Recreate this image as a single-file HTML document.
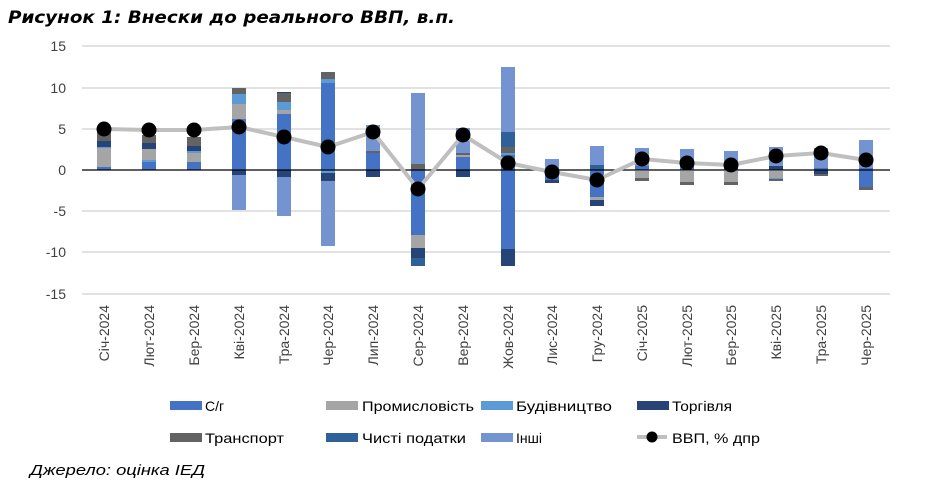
<!DOCTYPE html>
<html><head><meta charset="utf-8"><style>
html,body{margin:0;padding:0;background:#fff;}
svg{display:block;font-family:"Liberation Sans",sans-serif;}
.A{fill:#4472C4}.P{fill:#A5A5A5}.B{fill:#5B9BD5}.T{fill:#264478}.R{fill:#636363}.N{fill:#2E6099}.I{fill:#7393D1}
.yl{font-size:14px;fill:#404040;text-anchor:end}
.xl{font-size:14px;fill:#404040;text-anchor:end}
.lg{font-size:14px;fill:#000}
</style></head><body>
<svg width="950" height="490" viewBox="0 0 950 490">
<text x="8" y="23" font-size="17" font-weight="bold" font-style="italic" fill="#000" font-family="DejaVu Sans, sans-serif" textLength="447" lengthAdjust="spacingAndGlyphs">Рисунок 1: Внески до реального ВВП, в.п.</text>
<g stroke="#D9D9D9" stroke-width="1.5">
<line x1="82" x2="890" y1="46" y2="46"/><line x1="82" x2="890" y1="88" y2="88"/><line x1="82" x2="890" y1="129" y2="129"/>
<line x1="82" x2="890" y1="211" y2="211"/><line x1="82" x2="890" y1="252" y2="252"/><line x1="82" x2="890" y1="294" y2="294"/>
</g>
<g class="yl">
<text x="66" y="51">15</text><text x="66" y="93">10</text><text x="66" y="134">5</text><text x="66" y="175">0</text>
<text x="66" y="216">-5</text><text x="66" y="257">-10</text><text x="66" y="299">-15</text>
</g>
<g>
<rect class="A" x="97" y="167" width="14" height="3"/><rect class="P" x="97" y="148" width="14" height="19"/><rect class="B" x="97" y="147" width="14" height="1"/><rect class="T" x="97" y="141" width="14" height="6"/><rect class="R" x="97" y="132" width="14" height="9"/>
<rect class="A" x="142" y="162" width="14" height="8"/><rect class="B" x="142" y="160" width="14" height="2"/><rect class="P" x="142" y="149" width="14" height="11"/><rect class="T" x="142" y="143" width="14" height="6"/><rect class="R" x="142" y="135" width="14" height="8"/>
<rect class="A" x="187" y="162" width="14" height="8"/><rect class="P" x="187" y="153" width="14" height="9"/><rect class="B" x="187" y="151" width="14" height="2"/><rect class="T" x="187" y="146" width="14" height="5"/><rect class="R" x="187" y="137" width="14" height="9"/>
<rect class="A" x="232" y="119" width="14" height="51"/><rect class="P" x="232" y="104" width="14" height="15"/><rect class="B" x="232" y="94" width="14" height="10"/><rect class="R" x="232" y="88" width="14" height="6"/>
<rect class="T" x="232" y="170" width="14" height="5"/><rect class="I" x="232" y="175" width="14" height="35"/>
<rect class="A" x="277" y="114" width="14" height="56"/><rect class="P" x="277" y="110" width="14" height="4"/><rect class="B" x="277" y="102" width="14" height="8"/><rect class="R" x="277" y="93" width="14" height="9"/><rect class="T" x="277" y="92" width="14" height="1"/>
<rect class="T" x="277" y="170" width="14" height="7"/><rect class="I" x="277" y="177" width="14" height="39"/>
<rect class="A" x="321" y="83" width="14" height="87"/><rect class="B" x="321" y="79" width="14" height="4"/><rect class="R" x="321" y="72" width="14" height="7"/>
<rect class="B" x="321" y="170" width="14" height="3"/><rect class="T" x="321" y="173" width="14" height="8"/><rect class="I" x="321" y="181" width="14" height="65"/>
<rect class="A" x="366" y="153" width="14" height="17"/><rect class="R" x="366" y="151" width="14" height="2"/><rect class="I" x="366" y="125" width="14" height="26"/>
<rect class="T" x="366" y="170" width="14" height="7"/>
<rect class="R" x="411" y="164" width="14" height="6"/><rect class="I" x="411" y="93" width="14" height="71"/>
<rect class="A" x="411" y="170" width="14" height="65"/><rect class="P" x="411" y="235" width="14" height="13"/><rect class="T" x="411" y="248" width="14" height="10"/><rect class="N" x="411" y="258" width="14" height="8"/>
<rect class="A" x="456" y="157" width="14" height="13"/><rect class="P" x="456" y="155" width="14" height="2"/><rect class="R" x="456" y="153" width="14" height="2"/><rect class="I" x="456" y="128" width="14" height="25"/>
<rect class="T" x="456" y="170" width="14" height="7"/>
<rect class="A" x="501" y="155" width="14" height="15"/><rect class="B" x="501" y="153" width="14" height="2"/><rect class="R" x="501" y="147" width="14" height="6"/><rect class="N" x="501" y="132" width="14" height="15"/><rect class="I" x="501" y="67" width="14" height="65"/>
<rect class="A" x="501" y="170" width="14" height="79"/><rect class="T" x="501" y="249" width="14" height="17"/>
<rect class="I" x="545" y="159" width="14" height="11"/><rect class="A" x="545" y="170" width="14" height="10"/><rect class="T" x="545" y="180" width="14" height="3"/>
<rect class="N" x="590" y="165" width="14" height="5"/><rect class="I" x="590" y="146" width="14" height="19"/>
<rect class="A" x="590" y="170" width="14" height="27"/><rect class="P" x="590" y="197" width="14" height="3"/><rect class="T" x="590" y="200" width="14" height="6"/>
<rect class="A" x="635" y="166" width="14" height="4"/><rect class="I" x="635" y="148" width="14" height="18"/>
<rect class="P" x="635" y="171" width="14" height="7"/><rect class="R" x="635" y="178" width="14" height="3"/>
<rect class="A" x="680" y="163" width="14" height="7"/><rect class="I" x="680" y="149" width="14" height="14"/>
<rect class="P" x="680" y="171" width="14" height="11"/><rect class="R" x="680" y="182" width="14" height="3"/>
<rect class="A" x="724" y="166" width="14" height="4"/><rect class="I" x="724" y="151" width="14" height="15"/>
<rect class="P" x="724" y="171" width="14" height="11"/><rect class="R" x="724" y="182" width="14" height="3"/>
<rect class="T" x="769" y="166" width="14" height="4"/><rect class="I" x="769" y="147" width="14" height="19"/>
<rect class="P" x="769" y="171" width="14" height="7"/><rect class="B" x="769" y="178" width="14" height="1"/><rect class="R" x="769" y="179" width="14" height="2"/>
<rect class="I" x="814" y="148" width="14" height="20"/><rect class="A" x="814" y="168" width="14" height="2"/>
<rect class="T" x="814" y="170" width="14" height="4"/><rect class="R" x="814" y="174" width="14" height="2"/>
<rect class="I" x="859" y="140" width="14" height="28"/><rect class="A" x="859" y="168" width="14" height="2"/>
<rect class="A" x="859" y="170" width="14" height="17"/><rect class="R" x="859" y="187" width="14" height="3"/>
</g>
<line x1="82" x2="890" y1="170" y2="170" stroke="#000" stroke-width="1.3"/>
<polyline fill="none" stroke="#BFBFBF" stroke-width="4" stroke-linejoin="round" points="104,129 149,130 194,130 239,127 284,137 328,147 373,132 418,189 463,135 508,163 552,172 597,180 642,159 687,163 731,165 776,156 821,153 866,160"/>
<g fill="#000">
<circle cx="104" cy="129" r="7.5"/><circle cx="149" cy="130" r="7.5"/><circle cx="194" cy="130" r="7.5"/><circle cx="239" cy="127" r="7.5"/><circle cx="284" cy="137" r="7.5"/><circle cx="328" cy="147" r="7.5"/><circle cx="373" cy="132" r="7.5"/><circle cx="418" cy="189" r="7.5"/><circle cx="463" cy="135" r="7.5"/><circle cx="508" cy="163" r="7.5"/><circle cx="552" cy="172" r="7.5"/><circle cx="597" cy="180" r="7.5"/><circle cx="642" cy="159" r="7.5"/><circle cx="687" cy="163" r="7.5"/><circle cx="731" cy="165" r="7.5"/><circle cx="776" cy="156" r="7.5"/><circle cx="821" cy="153" r="7.5"/><circle cx="866" cy="160" r="7.5"/>
</g>
<g class="xl">
<text transform="translate(109,305) rotate(-90)">Січ-2024</text>
<text transform="translate(154,305) rotate(-90)">Лют-2024</text>
<text transform="translate(199,305) rotate(-90)">Бер-2024</text>
<text transform="translate(244,305) rotate(-90)">Кві-2024</text>
<text transform="translate(289,305) rotate(-90)">Тра-2024</text>
<text transform="translate(333,305) rotate(-90)">Чер-2024</text>
<text transform="translate(378,305) rotate(-90)">Лип-2024</text>
<text transform="translate(423,305) rotate(-90)">Сер-2024</text>
<text transform="translate(468,305) rotate(-90)">Вер-2024</text>
<text transform="translate(513,305) rotate(-90)">Жов-2024</text>
<text transform="translate(557,305) rotate(-90)">Лис-2024</text>
<text transform="translate(602,305) rotate(-90)">Гру-2024</text>
<text transform="translate(647,305) rotate(-90)">Січ-2025</text>
<text transform="translate(692,305) rotate(-90)">Лют-2025</text>
<text transform="translate(736,305) rotate(-90)">Бер-2025</text>
<text transform="translate(781,305) rotate(-90)">Кві-2025</text>
<text transform="translate(826,305) rotate(-90)">Тра-2025</text>
<text transform="translate(871,305) rotate(-90)">Чер-2025</text>
</g>
<rect class="A" x="170" y="401" width="32" height="9"/><text class="lg" x="205" y="411">С/г</text>
<rect class="P" x="326" y="401" width="32" height="9"/><text class="lg" x="362" y="411" textLength="112" lengthAdjust="spacingAndGlyphs">Промисловість</text>
<rect class="B" x="481" y="401" width="32" height="9"/><text class="lg" x="516" y="411" textLength="96" lengthAdjust="spacingAndGlyphs">Будівництво</text>
<rect class="T" x="637" y="401" width="32" height="9"/><text class="lg" x="672" y="411" textLength="60" lengthAdjust="spacingAndGlyphs">Торгівля</text>
<rect class="R" x="170" y="433" width="32" height="9"/><text class="lg" x="205" y="443" textLength="79" lengthAdjust="spacingAndGlyphs">Транспорт</text>
<rect class="N" x="326" y="433" width="32" height="9"/><text class="lg" x="362" y="443" textLength="104" lengthAdjust="spacingAndGlyphs">Чисті податки</text>
<rect class="I" x="481" y="433" width="32" height="9"/><text class="lg" x="516" y="443">Інші</text>
<line x1="637" x2="667" y1="437" y2="437" stroke="#BFBFBF" stroke-width="4"/><circle cx="652" cy="437" r="5.5" fill="#000"/>
<text class="lg" x="672" y="443" textLength="88" lengthAdjust="spacingAndGlyphs">ВВП, % дпр</text>
<text x="30" y="475" font-size="15" font-style="italic" fill="#000" textLength="175" lengthAdjust="spacingAndGlyphs">Джерело: оцінка ІЕД</text>
</svg>
</body></html>
